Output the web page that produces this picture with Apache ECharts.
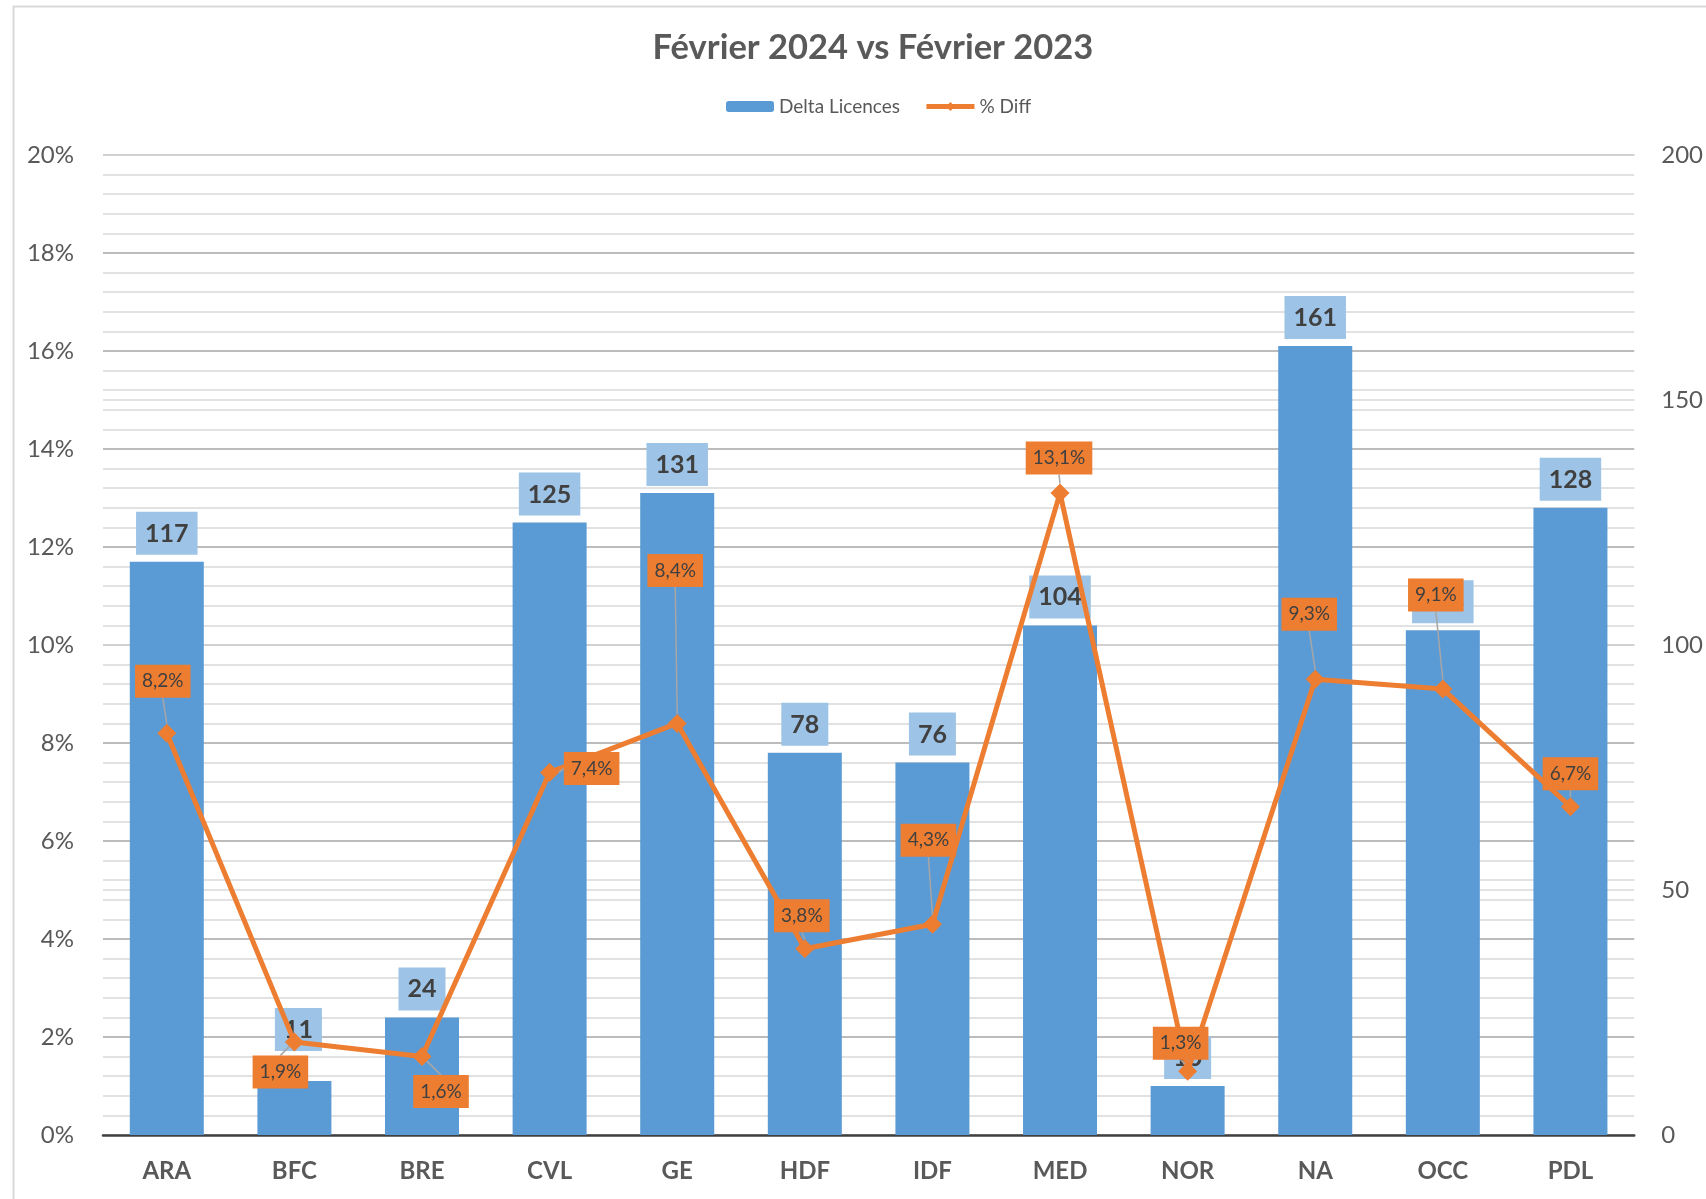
<!DOCTYPE html>
<html><head><meta charset="utf-8">
<script src="https://cdn.jsdelivr.net/npm/echarts@6/dist/echarts.min.js"></script>
<style>html,body{margin:0;padding:0;background:#fff}#c{width:1706px;height:1199px}</style>
</head><body><div id="c"></div>
<script>
// ---- data ----
const categories = ['ARA','BFC','BRE','CVL','GE','HDF','IDF','MED','NOR','NA','OCC','PDL'];
const deltaLicences = [117, 11, 24, 125, 131, 78, 76, 104, 10, 161, 103, 128];
const pctDiff = [8.2, 1.9, 1.6, 7.4, 8.4, 3.8, 4.3, 13.1, 1.3, 9.3, 9.1, 6.7];
const leftAxisTicks = [0, 2, 4, 6, 8, 10, 12, 14, 16, 18, 20];
const rightAxisTicks = [0, 50, 100, 150, 200];

// ---- style (label placement, not data) ----
const lineLabelShift = [[-4,-52],[-14,30],[19,35],[42,-4],[-2,-153],[-3,-33],[-4,-84],[-1,-35],[-7,-28],[-6,-65],[-7,-94],[0,-33]];
const barLabelShift = [[0,0],[4,-23],[0,0],[0,0],[0,0],[0,0],[0,0],[0,0],[0,0],[0,0],[0,0],[0,0]];

const FONT = 'Lato, "Open Sans", sans-serif';
const chart = echarts.init(document.getElementById('c'));

const barData = deltaLicences.map((v, i) => ({
  value: v,
  label: { offset: barLabelShift[i] }
}));

chart.setOption({
  backgroundColor: '#fff',
  animation: false,
  textStyle: { fontFamily: FONT },
  graphic: [{
    type: 'rect', left: 11, top: 4, silent: true,
    shape: { width: 1800, height: 1300 },
    style: { fill: 'none', stroke: '#D9D9D9', lineWidth: 2 }
  }],
  title: {
    text: 'Février 2024 vs Février 2023',
    left: 868, textAlign: 'center', top: 25,
    textStyle: { fontFamily: FONT, fontSize: 34.5, fontWeight: 'bold', color: '#595959' }
  },
  legend: {
    data: ['Delta Licences', '% Diff'],
    left: 721, top: 92,
    itemWidth: 48, itemHeight: 11, itemGap: 24,
    lineStyle: { width: 5 },
    textStyle: { fontFamily: FONT, fontSize: 19, color: '#595959' }
  },
  grid: { left: 103, right: 65, top: 155, bottom: 64, containLabel: false },
  xAxis: {
    type: 'category', data: categories,
    axisLine: { lineStyle: { color: '#404040', width: 2.5 } },
    axisTick: { show: false },
    axisLabel: { margin: 24, fontFamily: FONT, fontSize: 24, fontWeight: 'bold', color: '#595959' }
  },
  yAxis: [{
    type: 'value', min: leftAxisTicks[0], max: leftAxisTicks[leftAxisTicks.length - 1], interval: leftAxisTicks[1] - leftAxisTicks[0],
    axisLine: { show: false }, axisTick: { show: false },
    axisLabel: { formatter: v => Math.round(v) + '%', margin: 29, fontFamily: FONT, fontSize: 24, color: '#595959' },
    splitLine: { show: true, lineStyle: { color: '#A6A6A6', width: 1.5 } },
    minorTick: { show: false, splitNumber: 5 },
    minorSplitLine: { show: true, lineStyle: { color: '#D9D9D9', width: 1.5 } }
  }, {
    type: 'value', min: rightAxisTicks[0], max: rightAxisTicks[rightAxisTicks.length - 1], interval: rightAxisTicks[1] - rightAxisTicks[0],
    position: 'right',
    axisLine: { show: false }, axisTick: { show: false },
    axisLabel: { margin: 27, fontFamily: FONT, fontSize: 24, color: '#595959' },
    splitLine: { show: true, lineStyle: { color: '#D9D9D9', width: 1.5 } }
  }],
  series: [{
    name: 'Delta Licences', type: 'bar', yAxisIndex: 1,
    data: barData,
    barCategoryGap: '42%',
    itemStyle: { color: '#5B9BD5' },
    label: {
      show: true, position: 'top', distance: 7,
      fontFamily: FONT, fontSize: 25, fontWeight: 'bold', color: '#404040',
      backgroundColor: '#9DC3E6', padding: [9, 9, 8, 9], lineHeight: 26
    }
  }, {
    name: '% Diff', type: 'line', yAxisIndex: 0,
    data: pctDiff,
    z: 5,
    symbol: 'diamond', symbolSize: 19,
    lineStyle: { color: '#ED7D31', width: 5 },
    itemStyle: { color: '#ED7D31' },
    label: {
      show: true, position: 'inside',
      formatter: p => p.value.toFixed(1).replace('.', ',') + '%',
      fontFamily: FONT, fontSize: 19, color: '#404040',
      backgroundColor: '#ED7D31', padding: [7, 7, 6, 7], lineHeight: 20
    },
    labelLine: { show: true, lineStyle: { color: '#A6A6A6', width: 1.5 } },
    labelLayout: p => ({ dx: lineLabelShift[p.dataIndex][0], dy: lineLabelShift[p.dataIndex][1] })
  }]
});
</script></body></html>
